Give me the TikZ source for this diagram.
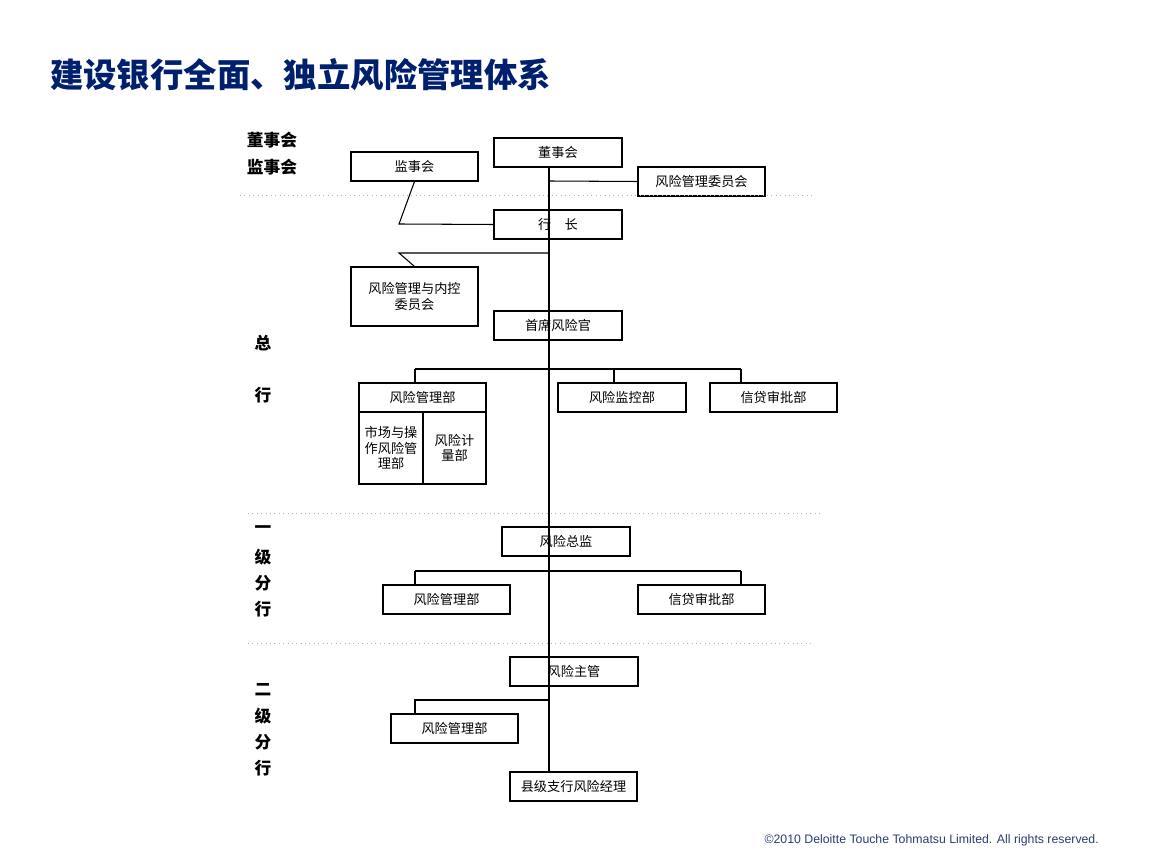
\documentclass[tikz,border=0pt]{standalone}
\usepackage{fontspec}
\setmainfont{Liberation Sans}
\newfontfamily\cjk{Noto Sans CJK SC}
\begin{document}
\begin{tikzpicture}[x=0.02cm,y=-0.02cm,
  bx/.style={draw,line width=0.6pt,inner sep=0pt,font=\cjk\fontsize{7.5}{9}\selectfont,align=center},
  ln/.style={line width=0.6pt},
  mainln/.style={line width=1.4pt},
  dl/.style={gray!60,dotted,line width=0.5pt},
  lab/.style={font=\cjk\bfseries\fontsize{9.5}{11}\selectfont}]
\useasboundingbox (0,0) rectangle (1152,864);
\node[anchor=west,font=\cjk\bfseries\fontsize{19}{22}\selectfont,text={rgb,255:red,0;green,32;blue,110}] (title) at (44,75) {建设银行全面、独立风险管理体系};
\newcommand\bxx[6]{\node[bx,minimum width={(#4-#2)*0.02cm},minimum height={(#5-#3)*0.02cm}] (#1) at ({(#2+#4)/2},{(#3+#5)/2}) {#6};}
\bxx{dsh}{494}{138}{622}{167}{董事会}
\bxx{jsh}{351}{152}{478}{181}{监事会}
\bxx{fxw}{638}{167}{765}{196}{风险管理委员会}
\bxx{hz}{494}{210}{622}{239}{行\quad 长}
\bxx{nk}{351}{267}{478}{326}{风险管理与内控\\委员会}
\bxx{sx}{494}{311}{622}{340}{首席风险官}
\bxx{glb}{359}{383}{486}{412}{风险管理部}
\bxx{sc}{359}{412}{423}{484}{市场与操\\作风险管\\理部}
\bxx{jl}{423}{412}{486}{484}{风险计\\量部}
\node[anchor=north] at (jl.north) {};
\bxx{jk}{558}{383}{686}{412}{风险监控部}
\bxx{xd}{710}{383}{837}{412}{信贷审批部}
\bxx{zj}{502}{527}{630}{556}{风险总监}
\bxx{gl2}{383}{585}{510}{614}{风险管理部}
\bxx{xd2}{638}{585}{765}{614}{信贷审批部}
\bxx{zg}{510}{657}{638}{686}{风险主管}
\bxx{gl3}{391}{714}{518}{743}{风险管理部}
\bxx{xj}{510}{772}{637}{801}{县级支行风险经理}
% dotted separators
\draw[dl] (240,195) -- (813,195);
\draw[dl] (248,513) -- (820,513);
\draw[dl] (248,643) -- (813,643);
% main spine
\coordinate (top) at (549,167);
\coordinate (bot) at (549,772);
\draw[mainln] (top) -- (bot);
\draw[ln] (549,181) -- (fxw.west);
\draw[ln] (jsh.south) -- (399,224) -- (hz.west);
\draw[ln] (549,253) -- (399,253) -- (nk.north);
\draw[ln] (415,369) -- (741,369);
\draw[ln] (415,369) -- (415,383);
\draw[ln] (614,369) -- (614,383);
\draw[ln] (741,369) -- (741,383);
\draw[ln] (415,571) -- (741,571);
\draw[ln] (415,571) -- (415,585);
\draw[ln] (741,571) -- (741,585);
\draw[ln] (549,700) -- (415,700) -- (415,714);
% left labels
\node[lab] at (272,140) {董事会};
\node[lab] at (272,167) {监事会};
\node[lab] at (263,343) {总};
\node[lab] at (263,395) {行};
\foreach \t/\y in {一/530,级/557,分/583,行/609,二/690,级/716,分/742,行/768}
  \node[lab] at (263,\y) {\t};
\node[anchor=east,font=\fontsize{7}{8}\selectfont,text={rgb,255:red,40;green,60;blue,120}] (foot) at (1105,840) {©2010 Deloitte Touche Tohmatsu Limited. All rights reserved.};
\end{tikzpicture}
\end{document}
